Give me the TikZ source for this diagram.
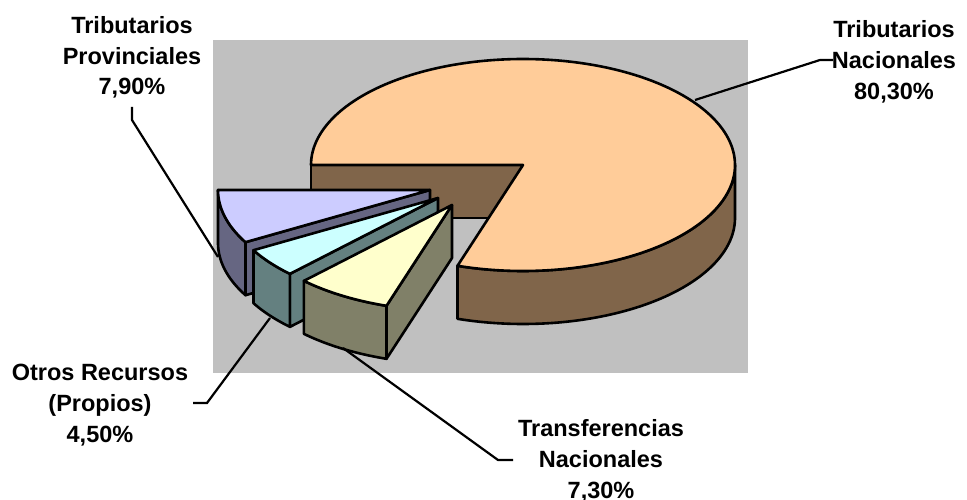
\documentclass[tikz,border=0pt]{standalone}
\usepackage{fontspec}
\setmainfont{Liberation Sans}
\definecolor{bggray}{RGB}{192,192,192}
\definecolor{peach}{RGB}{255,204,153}
\definecolor{peachside}{RGB}{128,101,74}
\definecolor{lav}{RGB}{204,204,255}
\definecolor{lavside}{RGB}{102,102,130}
\definecolor{cyanl}{RGB}{204,255,255}
\definecolor{cyanside}{RGB}{100,128,128}
\definecolor{yel}{RGB}{255,255,204}
\definecolor{yelside}{RGB}{128,128,104}
\def\PRX{212}\def\PRY{106}\def\PH{53}
\newcommand\pieSlice[7]{%
  \ifnum#7=1
  \draw[pieedge, fill=#6] ({#1},{#2}) -- ({#1+\PRX*cos(#3)},{#2+\PRY*sin(#3)}) -- ++(0,\PH) -- ({#1},{#2+\PH}) -- cycle;
  \fi
  \draw[pieedge, fill=#6] plot[domain=#3:#4, samples=50] ({#1+\PRX*cos(\x)},{#2+\PRY*sin(\x)}) -- plot[domain=#4:#3, samples=50] ({#1+\PRX*cos(\x)},{#2+\PH+\PRY*sin(\x)}) -- cycle;
  \draw[pieedge, fill=#5] ({#1},{#2}) -- plot[domain=#3:#4, samples=50] ({#1+\PRX*cos(\x)},{#2+\PRY*sin(\x)}) -- cycle;
}
\begin{document}
\begin{tikzpicture}[x=1pt,y=-1pt,
  pieedge/.style={draw=black, line width=2.6pt, line join=round},
  leader/.style={draw=black, line width=2.2pt, line join=miter},
  lbl/.style={font=\fontsize{23.5}{30.8}\selectfont\bfseries, align=center, inner sep=0pt, anchor=base}]
\useasboundingbox (0,0) rectangle (967,500);
\fill[bggray] (213,40) rectangle (748,373);
% main slice: Tributarios Nacionales
\draw[pieedge, fill=peachside] (523,165) -- (311,165) -- (311,218) -- (523,218) -- cycle;
\draw[pieedge, fill=peachside] plot[domain=0:108, samples=80] ({523+\PRX*cos(\x)},{165+\PRY*sin(\x)}) -- plot[domain=108:0, samples=80] ({523+\PRX*cos(\x)},{165+\PH+\PRY*sin(\x)}) -- cycle;
\draw[pieedge, fill=peach] (523,165) -- plot[domain=180:468, samples=200] ({523+\PRX*cos(\x)},{165+\PRY*sin(\x)}) -- cycle;
% exploded slices
\pieSlice{430}{190}{150.5}{180}{lav}{lavside}{1}
\pieSlice{438}{198}{134.3}{150.5}{cyanl}{cyanside}{1}
\pieSlice{452}{205}{108}{134.3}{yel}{yelside}{1}
% labels (anchor base = baseline of last line)
\node[lbl] (tp) at (132,95) {Tributarios\\Provinciales\\7,90\%};
\node[lbl] (tn) at (894,99.5) {Tributarios\\Nacionales\\80,30\%};
\node[lbl] (or) at (100,442) {Otros Recursos\\(Propios)\\4,50\%};
\node[lbl] (tr) at (601,498) {Transferencias\\Nacionales\\7,30\%};
% leader lines
\coordinate (tpA) at (218,257); \coordinate (tpB) at (132,120); \coordinate (tpC) at (132,107);
\coordinate (tnA) at (695,100); \coordinate (tnB) at (820,60); \coordinate (tnC) at (833,60);
\coordinate (orA) at (270,318); \coordinate (orB) at (207,403); \coordinate (orC) at (193,403);
\coordinate (trA) at (343,348); \coordinate (trB) at (498,460); \coordinate (trC) at (513,460);
\draw[leader] (tpA) -- (tpB) -- (tpC);
\draw[leader] (tnA) -- (tnB) -- (tnC);
\draw[leader] (orA) -- (orB) -- (orC);
\draw[leader] (trA) -- (trB) -- (trC);
\end{tikzpicture}
\end{document}
